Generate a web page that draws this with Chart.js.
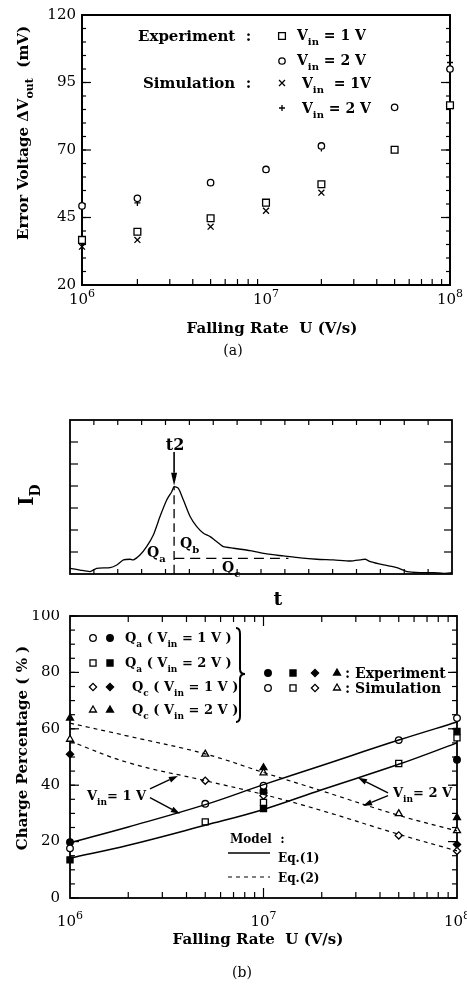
<!DOCTYPE html>
<html>
<head>
<meta charset="utf-8">
<script src="https://cdn.jsdelivr.net/npm/chart.js@4.4.1/dist/chart.umd.min.js"></script>
<style>
  body { margin: 0; background: #fff; width: 467px; height: 985px; position: relative; overflow: hidden; }
  canvas { position: absolute; left: 0; }
</style>
</head>
<body>
<canvas id="cA" width="467" height="370" style="top:0px"></canvas>
<canvas id="cB" width="467" height="210" style="top:400px"></canvas>
<canvas id="cC" width="467" height="375" style="top:610px"></canvas>
<script>
// ---- (a) error voltage vs falling rate ----
const rateA = [1e6, 2e6, 5e6, 1e7, 2e7, 5e7, 1e8];
const expV1 = [36.7, 39.7, 44.7, 50.5, 57.3, 70.1, 86.6];
const expV2 = [49.3, 52.1, 57.9, 62.8, 71.5, 85.8, 100.0];
const simV1 = [34.2, 36.7, 41.6, 47.5, 54.2, 70.0, 86.3];
const simV2 = [49.0, 50.4, 57.9, 62.8, 70.6, 85.8, 102.4];
const yTicksA = [20, 45, 70, 95, 120];

// ---- drain current sketch ----
const tAxis = [0, 0.42, 0.84, 1.12, 1.68, 1.96, 2.24, 2.52, 2.66, 2.93, 3.21, 3.49, 3.77, 4.05, 4.26, 4.36,
  4.54, 4.75, 5.03, 5.31, 5.59, 5.87, 6.15, 6.43, 6.85, 7.55, 8.24, 8.94, 9.64, 10.34, 11.04, 11.74,
  12.16, 12.37, 12.58, 13.14, 13.69, 14.11, 14.67, 15.23, 15.65, 16];
const idCurve = [0.26, 0.18, 0.11, 0.26, 0.29, 0.41, 0.64, 0.67, 0.64, 0.86, 1.24, 1.77, 2.61, 3.36, 3.74, 3.97,
  3.89, 3.36, 2.61, 2.15, 1.85, 1.70, 1.47, 1.24, 1.17, 1.06, 0.91, 0.82, 0.73, 0.67, 0.64, 0.59,
  0.64, 0.67, 0.56, 0.41, 0.29, 0.11, 0.06, 0.06, 0.03, 0.06];
const qcLevel = 0.71;
const qcEnd = 9.15;

// ---- (b) charge percentage ----
const rateB = [1e6, 2e6, 5e6, 1e7, 2e7, 5e7, 1e8];
const eq1V1 = [19.6, 25.2, 33.1, 40.2, 47.0, 56.0, 62.4];
const eq1V2 = [14.1, 18.7, 25.8, 31.4, 38.4, 47.4, 55.0];
const eq2V1 = [55.6, 48.0, 41.6, 36.7, 31.0, 22.6, 16.7];
const eq2V2 = [62.0, 57.4, 51.1, 44.5, 38.0, 29.3, 23.8];

const simQa1x = [1e6, 5e6, 1e7, 5e7, 1e8], simQa1 = [17.6, 33.4, 39.8, 56.0, 63.8];
const expQa1x = [1e6, 1e7, 1e8],           expQa1 = [19.8, 38.0, 49.0];
const simQa2x = [5e6, 1e7, 5e7, 1e8],      simQa2 = [27.0, 33.9, 47.7, 56.8];
const expQa2x = [1e6, 1e7, 1e8],           expQa2 = [13.5, 31.7, 59.1];
const simQc1x = [5e6, 1e7, 5e7, 1e8],      simQc1 = [41.6, 36.3, 22.2, 16.7];
const expQc1x = [1e6, 1e7, 1e8],           expQc1 = [51.0, 37.2, 19.0];
const simQc2x = [1e6, 5e6, 1e7, 5e7, 1e8], simQc2 = [56.3, 51.0, 44.4, 29.9, 23.9];
const expQc2x = [1e6, 1e7, 1e8],           expQc2 = [63.8, 46.2, 28.5];
const yTicksB = [0, 20, 40, 60, 80, 100];
const decades = [1e6, 1e7, 1e8];
const decadeExp = ['6', '7', '8'];

const SERIF = '"DejaVu Serif", "Liberation Serif", serif';
function font(size, bold) { return (bold ? 'bold ' : '') + size + 'px ' + SERIF; }

// text with sub/superscripts: parts = [[text, ''|'sub'|'sup'], ...]
function rich(ctx, parts, x, y, size, align, bold) {
  if (bold === undefined) bold = true;
  let w = 0;
  const pieces = parts.map(([t, m]) => {
    const s = m ? Math.round(size * 0.72) : size;
    ctx.font = font(s, bold);
    const pw = ctx.measureText(t).width;
    w += pw;
    return { t, m, s, pw };
  });
  let cx = align === 'center' ? x - w / 2 : align === 'right' ? x - w : x;
  ctx.textAlign = 'left';
  ctx.textBaseline = 'alphabetic';
  for (const p of pieces) {
    ctx.font = font(p.s, bold);
    const dy = p.m === 'sub' ? size * 0.35 : p.m === 'sup' ? -size * 0.45 : 0;
    ctx.fillText(p.t, cx, y + dy);
    cx += p.pw;
  }
  return w;
}

function richUp(ctx, parts, x, y, size) {
  ctx.save();
  ctx.translate(x, y);
  ctx.rotate(-Math.PI / 2);
  rich(ctx, parts, 0, 0, size, 'center');
  ctx.restore();
}

function line(ctx, x1, y1, x2, y2) {
  ctx.beginPath(); ctx.moveTo(x1, y1); ctx.lineTo(x2, y2); ctx.stroke();
}

function arrow(ctx, x1, y1, x2, y2, head, half) {
  const ang = Math.atan2(y2 - y1, x2 - x1);
  const bx = x2 - Math.cos(ang) * head, by = y2 - Math.sin(ang) * head;
  line(ctx, x1, y1, bx, by);
  ctx.beginPath();
  ctx.moveTo(x2, y2);
  ctx.lineTo(bx + Math.sin(ang) * half, by - Math.cos(ang) * half);
  ctx.lineTo(bx - Math.sin(ang) * half, by + Math.cos(ang) * half);
  ctx.closePath();
  ctx.fill();
}

// inward ticks on the chosen sides
function xTicks(chart, vals, len, top) {
  const ctx = chart.ctx, a = chart.chartArea, sx = chart.scales.x;
  vals.forEach(v => {
    const px = sx.getPixelForValue(v);
    line(ctx, px, a.bottom, px, a.bottom - len);
    if (top) line(ctx, px, a.top, px, a.top + len);
  });
}
function yTicks(chart, vals, len) {
  const ctx = chart.ctx, a = chart.chartArea, sy = chart.scales.y;
  vals.forEach(v => {
    const py = sy.getPixelForValue(v);
    line(ctx, a.left, py, a.left + len, py);
    line(ctx, a.right, py, a.right - len, py);
  });
}
function frame(chart, lw) {
  const ctx = chart.ctx, a = chart.chartArea;
  ctx.lineWidth = lw;
  ctx.strokeRect(a.left, a.top, a.right - a.left, a.bottom - a.top);
}
function logLabels(chart, baseline) {
  const ctx = chart.ctx, sx = chart.scales.x;
  decades.forEach((d, i) => {
    rich(ctx, [['10', ''], [decadeExp[i], 'sup']], sx.getPixelForValue(d), baseline, 15, 'center', false);
  });
}
function yLabels(chart, vals, xRight) {
  const ctx = chart.ctx, sy = chart.scales.y;
  ctx.font = font(15, false);
  ctx.textAlign = 'right';
  ctx.textBaseline = 'middle';
  vals.forEach(v => ctx.fillText(String(v), xRight, sy.getPixelForValue(v)));
}
function marker(ctx, style, r, filled, x, y) {
  ctx.save();
  ctx.fillStyle = filled ? '#000' : '#fff';
  ctx.strokeStyle = '#000';
  ctx.lineWidth = 1.3;
  Chart.helpers.drawPoint(ctx, { pointStyle: style, radius: r, rotation: 0, borderWidth: 1.3 }, x, y);
  ctx.restore();
}

const minorLog = [];
[1e6, 1e7].forEach(d => { for (let k = 2; k <= 9; k++) minorLog.push(k * d); });
function steps(from, to, step) { const out = []; for (let v = from; v <= to; v += step) out.push(v); return out; }

function pts(xs, ys) { return xs.map((x, i) => ({ x: x, y: ys[i] })); }
function marks(xs, ys, style, r, filled) {
  return {
    data: pts(xs, ys), showLine: false, clip: false,
    pointStyle: style, pointRadius: r, pointHoverRadius: r,
    pointBorderColor: '#000', pointBackgroundColor: filled ? '#000' : '#fff', pointBorderWidth: 1.3
  };
}
function curve(xs, ys, dash, lw) {
  return {
    data: pts(xs, ys), showLine: true, clip: false, pointRadius: 0,
    borderColor: '#000', borderWidth: lw, borderDash: dash, tension: 0.4, fill: false
  };
}

function baseOpts(box, W, H, xCfg, yCfg) {
  const hidden = { grid: { display: false }, border: { display: false }, ticks: { display: false } };
  return {
    responsive: false, animation: false, devicePixelRatio: 1,
    layout: { padding: { left: 0, top: box.top, right: W - box.right, bottom: H - box.bottom } },
    plugins: { legend: { display: false }, tooltip: { enabled: false } },
    scales: {
      x: Object.assign({}, hidden, xCfg, { afterFit: s => { s.height = 0; } }),
      y: Object.assign({}, hidden, yCfg, { afterFit: s => { s.width = box.left; } })
    }
  };
}

// ================= chart (a) =================
new Chart(document.getElementById('cA'), {
  type: 'scatter',
  data: {
    datasets: [
      marks(rateA, expV1, 'rect', 4.8, false),
      marks(rateA, expV2, 'circle', 3.2, false),
      marks(rateA, simV1, 'crossRot', 4.2, false),
      marks(rateA, simV2, 'cross', 3, false)
    ]
  },
  options: baseOpts({ left: 82, right: 450, top: 15, bottom: 285 }, 467, 370,
    { type: 'logarithmic', min: 1e6, max: 1e8 }, { type: 'linear', min: 20, max: 120 }),
  plugins: [{
    id: 'decorA',
    beforeDatasetsDraw(chart) {
      const ctx = chart.ctx;
      ctx.save();
      ctx.strokeStyle = '#000'; ctx.fillStyle = '#000';
      frame(chart, 2);
      ctx.lineWidth = 1.2;
      xTicks(chart, minorLog, 6, false);
      yTicks(chart, steps(20, 120, 5), 4);
      yTicks(chart, yTicksA, 9);
      ctx.restore();
    },
    afterDraw(chart) {
      const ctx = chart.ctx;
      ctx.save();
      ctx.fillStyle = '#000';
      yLabels(chart, yTicksA, 76);
      logLabels(chart, 304);
      rich(ctx, [['Falling Rate  U (V/s)', '']], 272, 333, 15, 'center');
      richUp(ctx, [['Error Voltage \u0394V', ''], ['out', 'sub'], ['  (mV)', '']], 28, 133, 15);
      // legend
      rich(ctx, [['Experiment  :', '']], 138, 41, 15, 'left');
      rich(ctx, [['Simulation  :', '']], 143, 88, 15, 'left');
      marker(ctx, 'rect', 4.8, false, 282, 36);
      marker(ctx, 'circle', 3.2, false, 282, 61);
      marker(ctx, 'crossRot', 4.2, false, 282, 83);
      marker(ctx, 'cross', 3, false, 282, 108);
      rich(ctx, [['V', ''], ['in', 'sub'], [' = 1 V', '']], 297, 40, 14, 'left');
      rich(ctx, [['V', ''], ['in', 'sub'], [' = 2 V', '']], 297, 65, 14, 'left');
      rich(ctx, [['V', ''], ['in', 'sub'], ['  = 1V', '']], 302, 88, 14, 'left');
      rich(ctx, [['V', ''], ['in', 'sub'], [' = 2 V', '']], 302, 113, 14, 'left');
      ctx.font = font(14, false);
      ctx.textAlign = 'center'; ctx.textBaseline = 'middle';
      ctx.fillText('(a)', 233, 351);
      ctx.restore();
    }
  }]
});

// ================= drain current sketch =================
const peakIdx = idCurve.indexOf(Math.max.apply(null, idCurve));
const peakT = tAxis[peakIdx], peakI = idCurve[peakIdx];
new Chart(document.getElementById('cB'), {
  type: 'scatter',
  data: {
    datasets: [
      Object.assign(curve(tAxis, idCurve, [], 1.3), { tension: 0.2 }),
      curve([peakT, peakT], [0, peakI], [9, 5], 1.3),
      curve([peakT, qcEnd], [qcLevel, qcLevel], [10, 6], 1.3)
    ]
  },
  options: baseOpts({ left: 70, right: 452, top: 20, bottom: 174 }, 467, 210,
    { type: 'linear', min: 0, max: 16 }, { type: 'linear', min: 0, max: 7 }),
  plugins: [{
    id: 'decorB',
    beforeDatasetsDraw(chart) {
      const ctx = chart.ctx;
      ctx.save();
      ctx.strokeStyle = '#000'; ctx.fillStyle = '#000';
      frame(chart, 1.8);
      ctx.lineWidth = 1.2;
      xTicks(chart, steps(1, 15, 1), 5, true);
      yTicks(chart, steps(1, 6, 1), 8);
      ctx.restore();
    },
    afterDraw(chart) {
      const ctx = chart.ctx, sx = chart.scales.x, sy = chart.scales.y;
      ctx.save();
      ctx.strokeStyle = '#000'; ctx.fillStyle = '#000';
      ctx.lineWidth = 1.6;
      const px = sx.getPixelForValue(peakT);
      arrow(ctx, px, 52, px, sy.getPixelForValue(peakI) - 1, 13, 3);
      rich(ctx, [['t', ''], ['2', '']], px + 1, 50, 16, 'center');
      rich(ctx, [['Q', ''], ['a', 'sub']], 147, 157, 14, 'left');
      rich(ctx, [['Q', ''], ['b', 'sub']], 180, 148, 14, 'left');
      rich(ctx, [['Q', ''], ['c', 'sub']], 222, 172, 14, 'left');
      richUp(ctx, [['I', ''], ['D', 'sub']], 33, 95, 20);
      rich(ctx, [['t', '']], 278, 205, 19, 'center');
      ctx.restore();
    }
  }]
});

// ================= chart (b) =================
const arrowsB = [
  [2.59e6, 38.7, 3.61e6, 43.3],
  [2.59e6, 35.6, 3.70e6, 29.9],
  [4.40e7, 37.3, 3.08e7, 42.6],
  [4.40e7, 36.3, 3.27e7, 32.7]
];
new Chart(document.getElementById('cC'), {
  type: 'scatter',
  data: {
    datasets: [
      curve(rateB, eq1V1, [], 1.5),
      curve(rateB, eq1V2, [], 1.5),
      curve(rateB, eq2V1, [4, 4], 1.2),
      curve(rateB, eq2V2, [4, 4], 1.2),
      marks(simQa1x, simQa1, 'circle', 3.3, false),
      marks(expQa1x, expQa1, 'circle', 3.3, true),
      marks(simQa2x, simQa2, 'rect', 4.3, false),
      marks(expQa2x, expQa2, 'rect', 4.3, true),
      marks(simQc1x, simQc1, 'rectRot', 3.6, false),
      marks(expQc1x, expQc1, 'rectRot', 3.6, true),
      marks(simQc2x, simQc2, 'triangle', 4, false),
      marks(expQc2x, expQc2, 'triangle', 4, true)
    ]
  },
  options: baseOpts({ left: 70, right: 457, top: 6, bottom: 288 }, 467, 375,
    { type: 'logarithmic', min: 1e6, max: 1e8 }, { type: 'linear', min: 0, max: 100 }),
  plugins: [{
    id: 'decorC',
    beforeDatasetsDraw(chart) {
      const ctx = chart.ctx;
      ctx.save();
      ctx.strokeStyle = '#000'; ctx.fillStyle = '#000';
      frame(chart, 1.8);
      ctx.lineWidth = 1.2;
      xTicks(chart, minorLog, 6, true);
      xTicks(chart, [1e7], 10, true);
      yTicks(chart, steps(0, 100, 5), 5);
      yTicks(chart, yTicksB, 9);
      ctx.restore();
    },
    afterDraw(chart) {
      const ctx = chart.ctx, sx = chart.scales.x, sy = chart.scales.y;
      ctx.save();
      ctx.strokeStyle = '#000'; ctx.fillStyle = '#000';
      yLabels(chart, yTicksB, 60);
      logLabels(chart, 316);
      rich(ctx, [['Falling Rate  U (V/s)', '']], 258, 334, 15, 'center');
      richUp(ctx, [['Charge Percentage ( % )', '']], 27, 138, 15);

      // symbol legend
      const rows = [[28, 'circle', 3.3, 'Q', 'a', ' = 1 V )', 125], [53, 'rect', 4.3, 'Q', 'a', ' = 2 V )', 125],
                    [77, 'rectRot', 3.6, 'Q', 'c', ' = 1 V )', 132], [100, 'triangle', 4, 'Q', 'c', ' = 2 V )', 132]];
      rows.forEach(r => {
        marker(ctx, r[1], r[2], false, 93, r[0]);
        marker(ctx, r[1], r[2], true, 110, r[0]);
        rich(ctx, [[r[3], ''], [r[4], 'sub'], [' ( V', ''], ['in', 'sub'], [r[5], '']], r[6], r[0] + 4, 13, 'left');
      });
      ctx.lineWidth = 2;
      ctx.beginPath();
      const bx = 236, bt = 18, bm = 64, bb = 112;
      ctx.moveTo(bx, bt);
      ctx.quadraticCurveTo(bx + 4, bt, bx + 4, bt + 6);
      ctx.lineTo(bx + 4, bm - 5);
      ctx.quadraticCurveTo(bx + 4, bm, bx + 9, bm);
      ctx.quadraticCurveTo(bx + 4, bm, bx + 4, bm + 5);
      ctx.lineTo(bx + 4, bb - 6);
      ctx.quadraticCurveTo(bx + 4, bb, bx, bb);
      ctx.stroke();
      [['circle', 3.3, 268], ['rect', 4.3, 293], ['rectRot', 3.6, 315], ['triangle', 4, 337]].forEach(s => {
        marker(ctx, s[0], s[1], true, s[2], 63);
        marker(ctx, s[0], s[1], false, s[2], 78);
      });
      rich(ctx, [[': Experiment', '']], 345, 68, 14, 'left');
      rich(ctx, [[': Simulation', '']], 345, 83, 14, 'left');

      // model legend
      rich(ctx, [['Model  :', '']], 230, 233, 12, 'left');
      ctx.lineWidth = 1.5;
      line(ctx, 228, 243, 270, 243);
      ctx.lineWidth = 1.2;
      ctx.setLineDash([4, 4]);
      line(ctx, 228, 267, 270, 267);
      ctx.setLineDash([]);
      rich(ctx, [['Eq.(1)', '']], 278, 252, 12, 'left');
      rich(ctx, [['Eq.(2)', '']], 278, 272, 12, 'left');

      // annotations
      ctx.lineWidth = 1.4;
      arrowsB.forEach(a => arrow(ctx, sx.getPixelForValue(a[0]), sy.getPixelForValue(a[1]),
        sx.getPixelForValue(a[2]), sy.getPixelForValue(a[3]), 9, 3));
      rich(ctx, [['V', ''], ['in', 'sub'], ['= 1 V', '']], 87, 190, 13, 'left');
      rich(ctx, [['V', ''], ['in', 'sub'], ['= 2 V', '']], 393, 187, 13, 'left');

      ctx.font = font(14, false);
      ctx.textAlign = 'center'; ctx.textBaseline = 'middle';
      ctx.fillText('(b)', 242, 363);
      ctx.restore();
    }
  }]
});
</script>
</body>
</html>
